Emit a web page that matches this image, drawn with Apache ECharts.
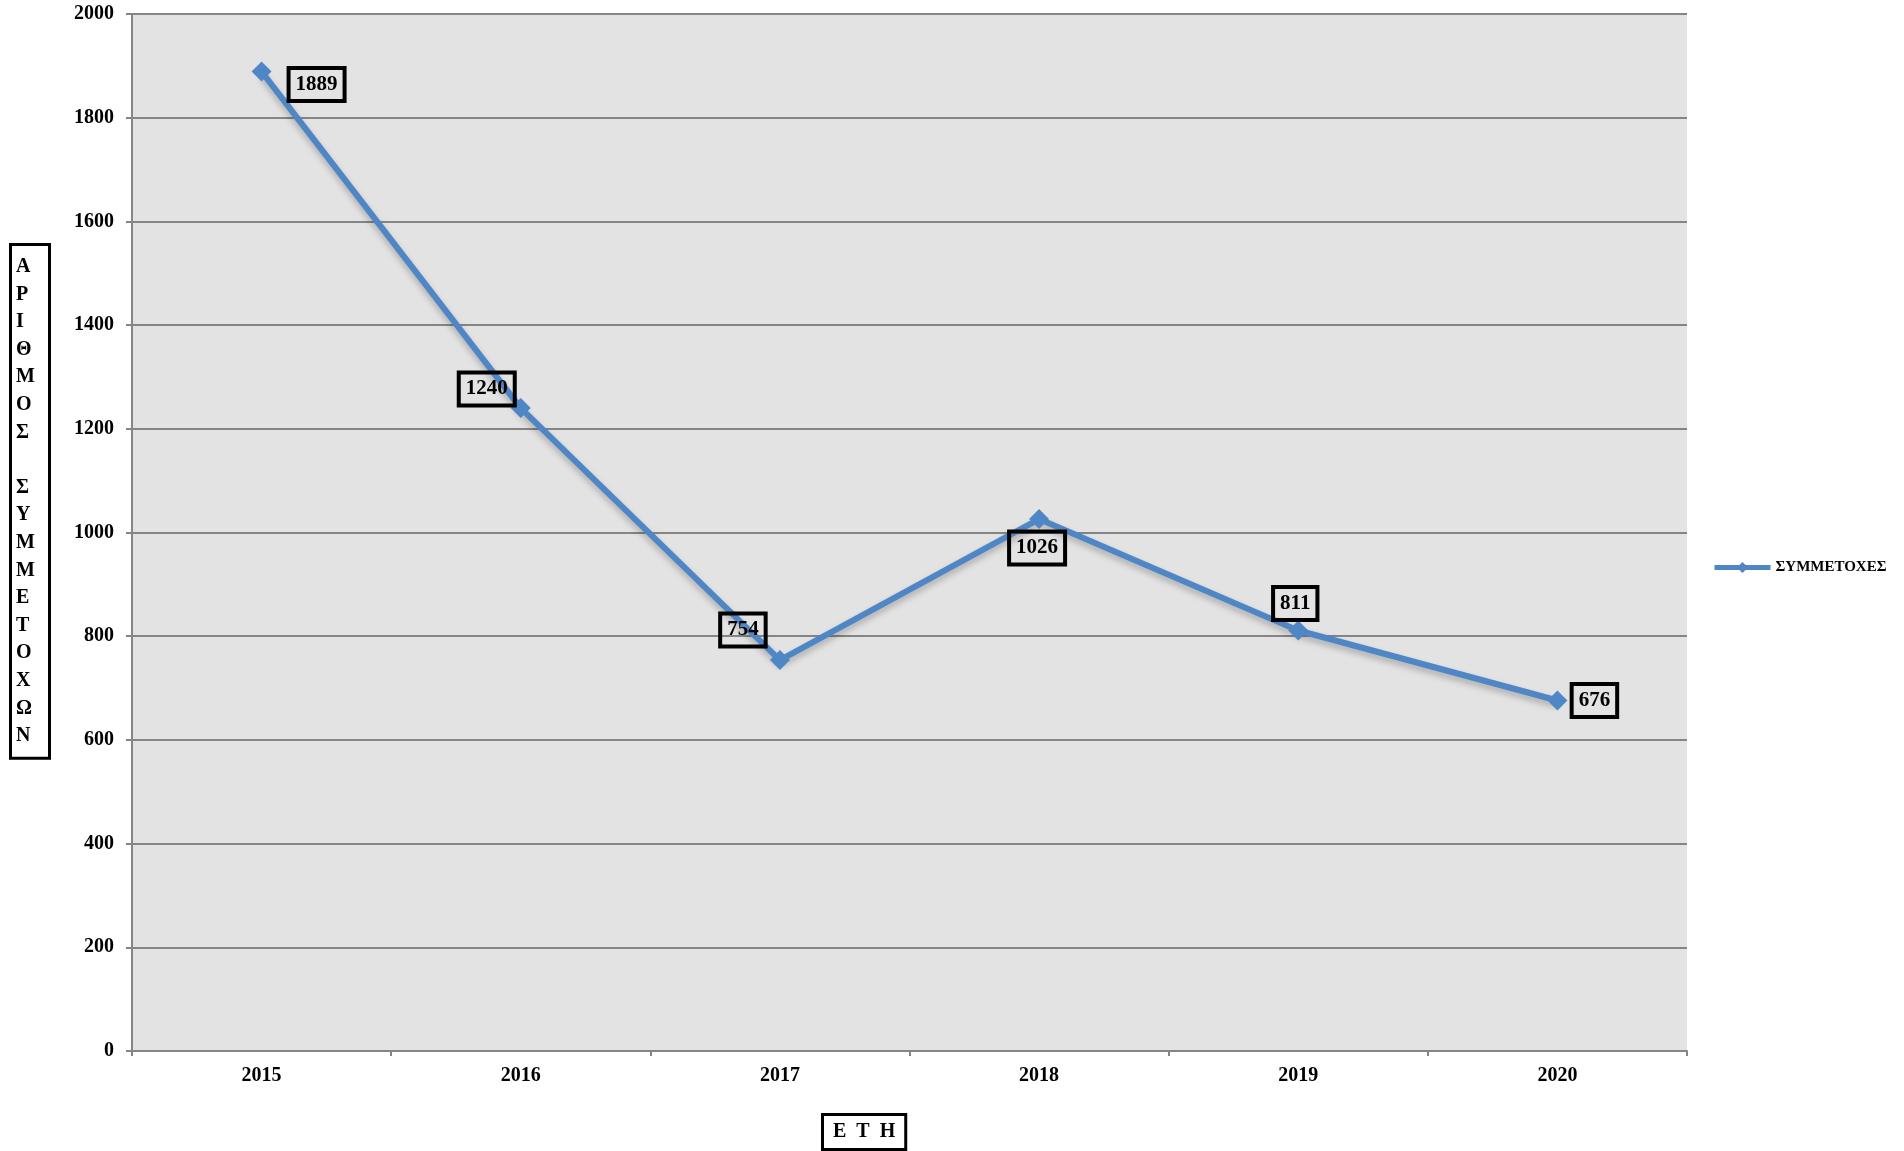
<!DOCTYPE html>
<html>
<head>
<meta charset="utf-8">
<script src="https://cdn.jsdelivr.net/npm/echarts@6/dist/echarts.min.js"></script>
<style>
html,body{margin:0;padding:0;background:#fff;}
#chart{width:1904px;height:1151px;}
</style>
</head>
<body>
<div id="chart"></div>
<script>
const categories = ['2015', '2016', '2017', '2018', '2019', '2020'];
const values = [1889, 1240, 754, 1026, 811, 676];
const seriesName = 'ΣΥΜΜΕΤΟΧΕΣ';
const yTicks = [0, 200, 400, 600, 800, 1000, 1200, 1400, 1600, 1800, 2000];
const yTitle = 'ΑΡΙΘΜΟΣ ΣΥΜΜΕΤΟΧΩΝ';
const xTitle = 'Ε  Τ  Η';

// label placement relative to each point (styling, not data)
const labelOffsets = [[55, 13], [-34, -19], [-37, -30], [-2, 29], [-3, -27], [37, 0]];

const FONT = '"Liberation Serif", "Times New Roman", serif';
const lineColor = '#4f86c6';

const chart = echarts.init(document.getElementById('chart'));

const seriesData = values.map((v, i) => ({
  value: v,
  label: { offset: labelOffsets[i] }
}));

const yTitleText = yTitle.split('').join('\n');

chart.setOption({
  backgroundColor: '#ffffff',
  animation: false,
  grid: {
    left: 132, right: 217, top: 14, bottom: 100,
    show: true,
    backgroundColor: '#e3e3e3',
    borderWidth: 0
  },
  legend: {
    show: true,
    data: [seriesName],
    left: 1707,
    top: 555,
    itemWidth: 56,
    itemHeight: 14,
    itemGap: 5,
    lineStyle: { width: 5 },
    textStyle: { fontFamily: FONT, fontWeight: 'bold', fontSize: 15, color: '#000' }
  },
  xAxis: {
    type: 'category',
    data: categories,
    boundaryGap: true,
    axisLine: { show: true, lineStyle: { color: '#858585', width: 2 } },
    axisTick: { show: true, alignWithLabel: false, length: 5, lineStyle: { color: '#858585', width: 2 } },
    axisLabel: { margin: 15, fontFamily: FONT, fontWeight: 'bold', fontSize: 20, color: '#000' },
    splitLine: { show: false }
  },
  yAxis: {
    type: 'value',
    min: yTicks[0],
    max: yTicks[yTicks.length - 1],
    interval: yTicks[1] - yTicks[0],
    axisLine: { show: true, lineStyle: { color: '#858585', width: 2 } },
    axisTick: { show: true, length: 6, lineStyle: { color: '#858585', width: 2 } },
    axisLabel: {
      margin: 18, fontFamily: FONT, fontWeight: 'bold', fontSize: 20, color: '#000',
      formatter: v => String(v)
    },
    splitLine: { show: true, lineStyle: { color: '#858585', width: 2 } }
  },
  graphic: [
    {
      type: 'text',
      left: 9,
      top: 243,
      style: {
        text: yTitleText,
        font: 'bold 20px ' + FONT,
        fill: '#000',
        align: 'center',
        lineHeight: 27.6,
        width: 28,
        padding: [7, 4, 7, 4],
        backgroundColor: '#fff',
        borderColor: '#000',
        borderWidth: 3
      }
    },
    {
      type: 'text',
      left: 821,
      top: 1113,
      style: {
        text: xTitle,
        font: 'bold 20px ' + FONT,
        fill: '#000',
        padding: [5, 9, 5, 9],
        lineHeight: 22,
        backgroundColor: '#fff',
        borderColor: '#000',
        borderWidth: 3
      }
    }
  ],
  series: [
    {
      name: seriesName,
      type: 'line',
      data: seriesData,
      symbol: 'diamond',
      symbolSize: 20,
      lineStyle: {
        color: lineColor, width: 6,
        shadowColor: 'rgba(0,0,0,0.25)', shadowBlur: 6, shadowOffsetY: 4
      },
      itemStyle: { color: lineColor },
      label: {
        show: true,
        position: 'inside',
        fontFamily: FONT,
        fontWeight: 'bold',
        fontSize: 21,
        color: '#000',
        lineHeight: 22,
        padding: [6, 7, 5, 7],
        borderColor: '#000',
        borderWidth: 2,
        backgroundColor: 'transparent'
      },
      z: 3
    }
  ]
});
</script>
</body>
</html>
